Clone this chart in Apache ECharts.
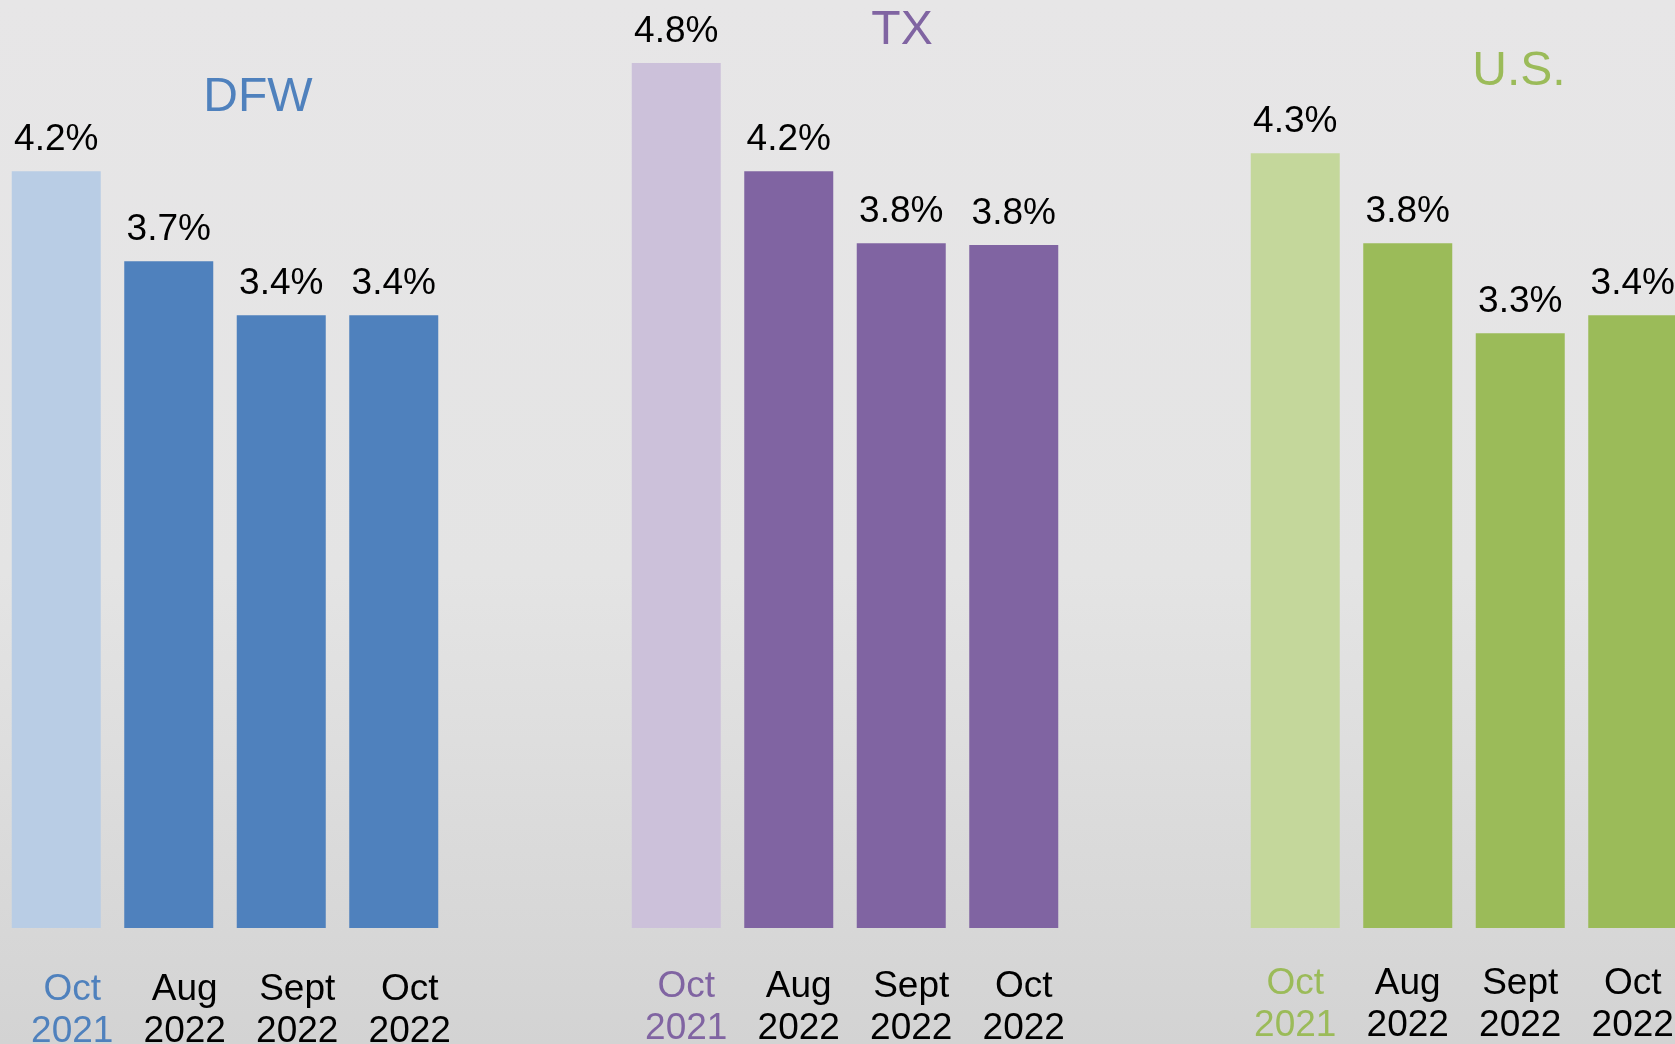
<!DOCTYPE html>
<html>
<head>
<meta charset="utf-8">
<title>Unemployment rate</title>
<script src="https://cdn.jsdelivr.net/npm/echarts@6/dist/echarts.min.js"></script>
<style>
  html, body { margin: 0; padding: 0; }
  #chart { width: 1675px; height: 1044px; }
</style>
</head>
<body>
<div id="chart"></div>
<script>
// 数据
const months = ["Oct\n2021", "Aug\n2022", "Sept\n2022", "Oct\n2022"]
const dfwRates = [4.2, 3.7, 3.4, 3.4]
const txRates = [4.8, 4.2, 3.8, 3.79]
const usRates = [4.3, 3.8, 3.3, 3.4]
const panelNames = ["DFW", "TX", "U.S."]

const FONT = "'Liberation Sans', Arial, sans-serif"

// 每个面板：深色 / 浅色(上年同期)
const panels = [
  { name: panelNames[0], data: dfwRates, dark: "#4F81BD", light: "#B9CDE5", left: 0, labelShift: 32, margin: 41, titleX: 258, titleY: 74 },
  { name: panelNames[1], data: txRates, dark: "#8064A2", light: "#CCC1DA", left: 620, labelShift: 20, margin: 38, titleX: 902, titleY: 7 },
  { name: panelNames[2], data: usRates, dark: "#9BBB59", light: "#C4D79B", left: 1239, labelShift: 0, margin: 35, titleX: 1519, titleY: 48 },
]

const chart = echarts.init(document.getElementById("chart"))

const option = {
  backgroundColor: new echarts.graphic.LinearGradient(0, 0, 0, 1, [
    { offset: 0, color: "#E7E6E7" },
    { offset: 0.55, color: "#E4E4E4" },
    { offset: 1, color: "#D3D3D3" },
  ]),
  animation: false,
  title: panels.map((p) => ({
    text: p.name,
    left: p.titleX,
    top: p.titleY,
    padding: 0,
    textAlign: "center",
    textStyle: {
      color: p.dark,
      fontSize: 48,
      fontWeight: "normal",
      fontFamily: FONT,
    },
  })),
  grid: panels.map((p) => ({
    left: p.left,
    width: 450,
    top: 27,
    bottom: 116,
    containLabel: false,
    outerBoundsMode: "none", // 不要自动缩放
  })),
  xAxis: panels.map((p, i) => ({
    type: "category",
    gridIndex: i,
    data: months,
    axisLine: { show: false },
    axisTick: { show: false },
    axisLabel: {
      interval: 0,
      hideOverlap: false,
      margin: p.margin,
      fontSize: 37,
      lineHeight: 42,
      fontFamily: FONT,
      padding: [0, 0, 0, p.labelShift],
      color: (value, idx) => (idx === 0 ? p.dark : "#000"),
    },
  })),
  yAxis: panels.map((p, i) => ({
    type: "value",
    gridIndex: i,
    min: 0,
    max: 5,
    show: false,
    splitLine: { show: false },
  })),
  series: panels.map((p, i) => ({
    type: "bar",
    name: p.name,
    xAxisIndex: i,
    yAxisIndex: i,
    barWidth: 89,
    data: p.data.map((v, k) => ({
      value: v,
      itemStyle: { color: k === 0 ? p.light : p.dark },
    })),
    label: {
      show: true,
      position: "top",
      distance: 13,
      color: "#000",
      fontSize: 37,
      fontFamily: FONT,
      formatter: (params) => params.value.toFixed(1) + "%",
    },
  })),
}

chart.setOption(option)
</script>
</body>
</html>
